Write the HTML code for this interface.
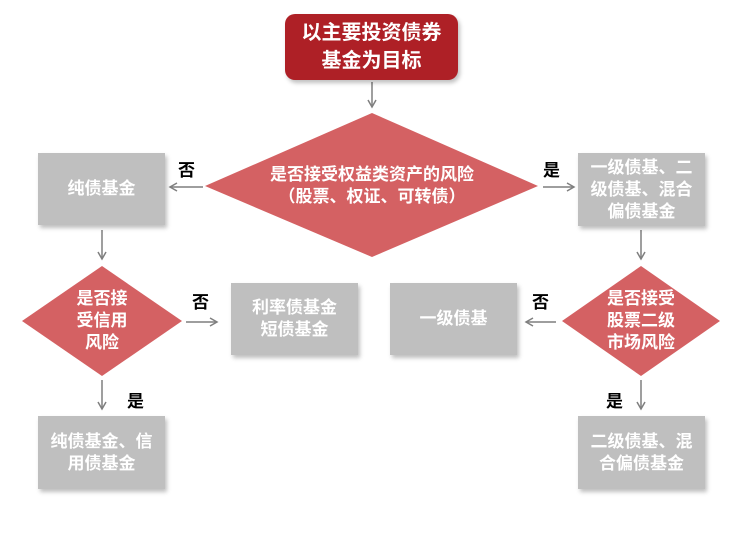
<!DOCTYPE html>
<html><head><meta charset="utf-8"><style>
body{margin:0;width:732px;height:541px;background:#fff;position:relative;overflow:hidden;font-family:"Liberation Sans","Noto Sans CJK SC",sans-serif}
.b{position:absolute;background:#bfbfbf;color:#fff;font-weight:bold;font-size:17px;line-height:22px;display:flex;align-items:center;justify-content:center;text-align:center;box-shadow:2px 3px 4px rgba(0,0,0,.25)}
.t{position:absolute;color:#fff;font-weight:bold;font-size:17px;line-height:22px;text-align:center}
.l{position:absolute;color:#000;font-weight:bold;font-size:17px}
</style></head><body>
<svg width="732" height="541" style="position:absolute;left:0;top:0">
<defs><marker id="a" markerWidth="10" markerHeight="10" refX="8" refY="5" orient="auto" markerUnits="userSpaceOnUse"><path d="M1,1 L8,5 L1,9" fill="none" stroke="#7f7f7f" stroke-width="1.5"/></marker></defs>
<polygon points="372,113 538,186 372,257 205,186" fill="#d46163"/>
<polygon points="102,266 182,321 102,376 22,321" fill="#d46163"/>
<polygon points="641,266 720,321 641,376 562,321" fill="#d46163"/>
<g stroke="#7f7f7f" stroke-width="1.5" marker-end="url(#a)">
<line x1="372" y1="82" x2="372" y2="107"/>
<line x1="203" y1="187" x2="170" y2="187"/>
<line x1="543" y1="187" x2="574" y2="187"/>
<line x1="102" y1="230" x2="102" y2="259"/>
<line x1="641" y1="230" x2="641" y2="259"/>
<line x1="186" y1="322" x2="217" y2="322"/>
<line x1="556" y1="322" x2="526" y2="322"/>
<line x1="102" y1="380" x2="102" y2="409"/>
<line x1="641" y1="380" x2="641" y2="409"/>
</g></svg>
<div class="b" style="left:285px;top:14px;width:173px;height:66px;background:#ae2026;border-radius:10px;font-size:20px;line-height:28px">以主要投资债券<br>基金为目标</div>
<div class="t" style="left:232px;top:164px;width:280px">是否接受权益类资产的风险<br>（股票、权证、可转债）</div>
<div class="b" style="left:38px;top:153px;width:127px;height:72px">纯债基金</div>
<div class="b" style="left:578px;top:153px;width:127px;height:73px">一级债基、二<br>级债基、混合<br>偏债基金</div>
<div class="t" style="left:52px;top:288px;width:100px">是否接<br>受信用<br>风险</div>
<div class="t" style="left:591px;top:288px;width:100px">是否接受<br>股票二级<br>市场风险</div>
<div class="b" style="left:231px;top:283px;width:127px;height:72px">利率债基金<br>短债基金</div>
<div class="b" style="left:390px;top:283px;width:127px;height:72px">一级债基</div>
<div class="b" style="left:38px;top:416px;width:127px;height:73px">纯债基金、信<br>用债基金</div>
<div class="b" style="left:578px;top:416px;width:127px;height:73px">二级债基、混<br>合偏债基金</div>
<div class="l" style="left:178px;top:156px">否</div>
<div class="l" style="left:543px;top:156px">是</div>
<div class="l" style="left:192px;top:288px">否</div>
<div class="l" style="left:532px;top:288px">否</div>
<div class="l" style="left:127px;top:387px">是</div>
<div class="l" style="left:606px;top:387px">是</div>
</body></html>
